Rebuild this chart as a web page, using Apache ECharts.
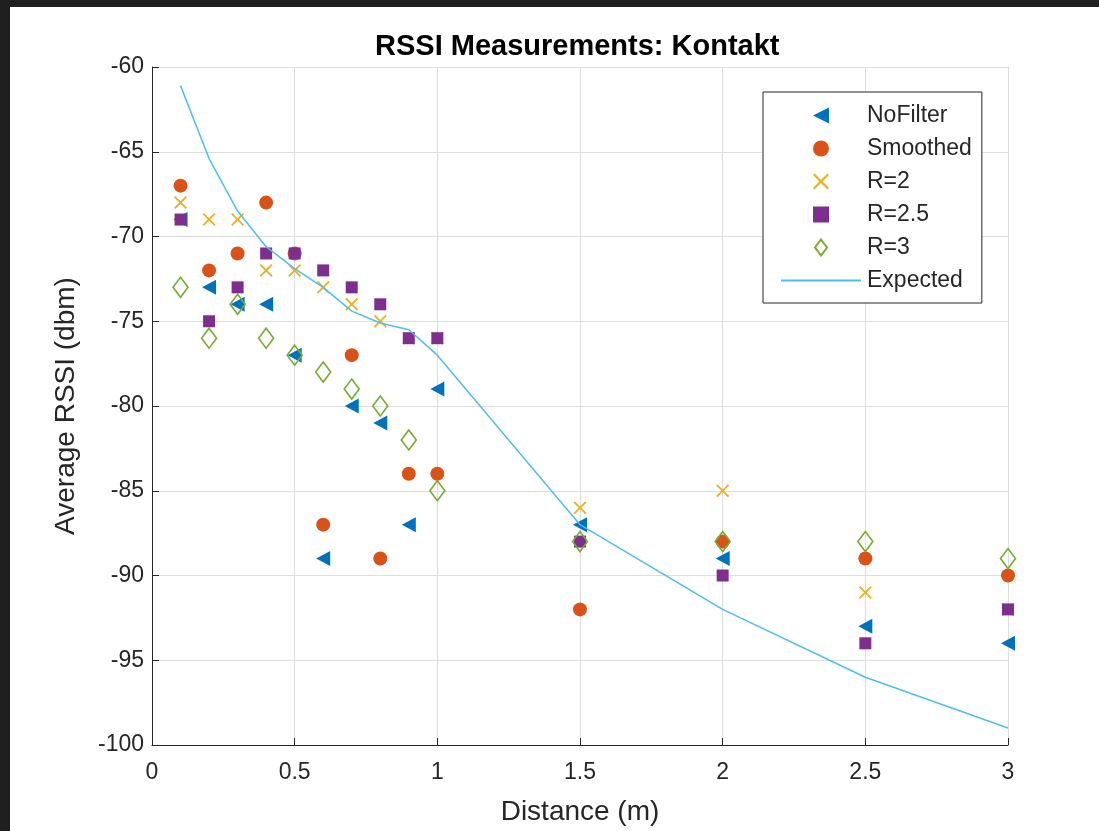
<!DOCTYPE html>
<html>
<head>
<meta charset="utf-8">
<script src="https://cdn.jsdelivr.net/npm/echarts@6/dist/echarts.min.js"></script>
<style>
	html, body { margin: 0; padding: 0; background: #1f1f1f; }
	#rssiChart { position: absolute; left: 10px; top: 7px; width: 1089px; height: 824px; background: #fff; }
</style>
</head>
<body>
<div id="rssiChart"></div>
<script>
// distances (m)
const distances = [0.1, 0.2, 0.3, 0.4, 0.5, 0.6, 0.7, 0.8, 0.9, 1.0, 1.5, 2, 2.5, 3]
// average RSSI (dbm) per filter
const noFilter = [-69, -73, -74, -74, -77, -89, -80, -81, -87, -79, -87, -89, -93, -94]
const smoothed = [-67, -72, -71, -68, -71, -87, -77, -89, -84, -84, -92, -88, -89, -90]
const r2 = [-68, -69, -69, -72, -72, -73, -74, -75, -76, -76, -86, -85, -91, -92]
const r25 = [-69, -75, -73, -71, -71, -72, -73, -74, -76, -76, -88, -90, -94, -92]
const r3 = [-73, -76, -74, -76, -77, -78, -79, -80, -82, -85, -88, -88, -88, -89]
const expected = [-61.1, -65.4, -68.5, -70.6, -71.9, -73.0, -74.4, -75.1, -75.5, -77.0, -87.0, -92.0, -96.0, -99.0]
const xTicks = [0, 0.5, 1, 1.5, 2, 2.5, 3]
const yTicks = [-100, -95, -90, -85, -80, -75, -70, -65, -60]

const pairs = (ys) => distances.map((d, i) => [d, ys[i]])

const txt = '#262626'
const font = 'Liberation Sans, Arial, sans-serif'
// marker shapes (matlab style)
const leftTriangle = 'path://M10,0L10,10L0,5Z'
const crossPath = 'path://M0,1L1,0L5,4L9,0L10,1L6,5L10,9L9,10L5,6L1,10L0,9L4,5Z'
const squarePath = 'path://M0,0L10,0L10,10L0,10Z'
const diamondPath = 'path://M7.5,0L15,10L7.5,20L0,10Z'

const initChart = () => {
	const chartDom = document.getElementById('rssiChart')
	const myChart = echarts.init(chartDom)
	const axisCommon = {
		type: 'value',
		axisLine: { show: true, onZero: false, lineStyle: { color: txt, width: 1 } },
		axisTick: { show: true, inside: true, length: 7, lineStyle: { color: txt } },
		axisLabel: { color: txt, fontSize: 23, fontFamily: font },
		splitLine: { show: true, lineStyle: { color: '#dedede', width: 1 } },
		nameTextStyle: { color: txt, fontSize: 28, fontFamily: font }
	}
	const options = {
		animation: false,
		backgroundColor: '#fff',
		title: {
			text: 'RSSI Measurements: Kontakt',
			left: 360,
			top: 20,
			textStyle: { color: '#000', fontSize: 29, fontWeight: 'bold', fontFamily: font }
		},
		legend: {
			orient: 'vertical',
			left: 753,
			top: 85,
			padding: [12, 10, 11, 17],
			itemWidth: 80,
			itemHeight: 16,
			itemGap: 10,
			backgroundColor: '#fff',
			borderColor: txt,
			borderWidth: 1,
			borderRadius: 0,
			textStyle: { color: txt, fontSize: 23, lineHeight: 23, fontFamily: font, padding: [0, 0, 0, 1] },
			data: ['NoFilter', 'Smoothed', 'R=2', 'R=2.5', 'R=3', { name: 'Expected', itemStyle: { opacity: 0 } }]
		},
		grid: {
			left: 142,
			right: 91,
			top: 60,
			bottom: 86
		},
		xAxis: Object.assign({}, axisCommon, {
			min: xTicks[0],
			max: xTicks[xTicks.length - 1],
			interval: 0.5,
			axisLabel: { color: txt, fontSize: 23, fontFamily: font, margin: 16 },
			name: 'Distance (m)',
			nameLocation: 'middle',
			nameGap: 53
		}),
		yAxis: Object.assign({}, axisCommon, {
			min: yTicks[0],
			max: yTicks[yTicks.length - 1],
			interval: 5,
			name: 'Average RSSI (dbm)',
			nameLocation: 'middle',
			nameRotate: 90,
			nameGap: 72
		}),
		series: [
			{
				name: 'NoFilter',
				type: 'scatter',
				symbol: leftTriangle,
				symbolKeepAspect: true,
				symbolSize: [14, 15],
				itemStyle: { color: '#0072BD', opacity: 1 },
				data: pairs(noFilter)
			},
			{
				name: 'Smoothed',
				type: 'scatter',
				symbol: 'circle',
				symbolKeepAspect: true,
				symbolSize: 14,
				itemStyle: { color: '#D95319', opacity: 1 },
				data: pairs(smoothed)
			},
			{
				name: 'R=2',
				type: 'scatter',
				symbol: crossPath,
				symbolKeepAspect: true,
				symbolSize: 13,
				itemStyle: { color: '#EDB120', opacity: 1 },
				data: pairs(r2)
			},
			{
				name: 'R=2.5',
				type: 'scatter',
				symbol: squarePath,
				symbolKeepAspect: true,
				symbolSize: 12,
				itemStyle: { color: '#7E2F8E', opacity: 1 },
				data: pairs(r25)
			},
			{
				name: 'R=3',
				type: 'scatter',
				symbol: diamondPath,
				symbolKeepAspect: true,
				symbolSize: 20,
				itemStyle: { color: 'rgba(255,255,255,0)', borderColor: '#77AC30', borderWidth: 1.6, opacity: 1 },
				data: pairs(r3)
			},
			{
				name: 'Expected',
				type: 'line',
				symbol: 'none',
				lineStyle: { color: '#4DBEEE', width: 1.5 },
				itemStyle: { color: '#4DBEEE' },
				data: pairs(expected)
			}
		]
	}
	myChart.setOption(options)
	return myChart
}
initChart()
</script>
</body>
</html>
